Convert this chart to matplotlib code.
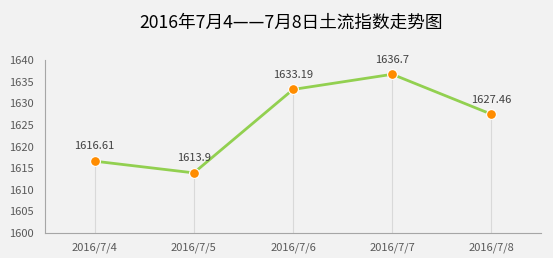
import matplotlib
matplotlib.use("Agg")
import matplotlib.pyplot as plt

dates = ["2016/7/4", "2016/7/5", "2016/7/6", "2016/7/7", "2016/7/8"]
values = [1616.61, 1613.9, 1633.19, 1636.7, 1627.46]
labels = ["1616.61", "1613.9", "1633.19", "1636.7", "1627.46"]
yticks = [1600, 1605, 1610, 1615, 1620, 1625, 1630, 1635, 1640]
title = "2016年7月4——7月8日土流指数走势图"

plt.rcParams['font.family'] = ['Noto Sans CJK SC', 'DejaVu Sans']

fig = plt.figure(figsize=(5.53, 2.58), dpi=100, facecolor="#f2f2f2")
ax = fig.add_axes([0.0814, 0.0969, 0.897, 0.6705])
ax.set_facecolor("#f2f2f2")

x = list(range(len(dates)))
for xi, v in zip(x, values):
    ax.plot([xi, xi], [1600, v], color="#d9d9d9", lw=0.8, zorder=1)
ax.plot(x, values, color="#92d050", lw=2, zorder=2)
ax.scatter(x, values, s=50, color="#ff8c00", edgecolor="white", linewidth=0.8, zorder=3)
for xi, v, t in zip(x, values, labels):
    ax.annotate(t, (xi, v), xytext=(0, 7), textcoords="offset points",
                ha="center", va="bottom", fontsize=8, color="#404040")

ax.set_xlim(-0.5, 4.5)
ax.set_ylim(1600, 1640)
ax.set_yticks(yticks)
ax.set_xticks(x)
ax.set_xticklabels(dates)
ax.tick_params(axis="both", length=0, labelsize=8, colors="#595959")
ax.tick_params(axis="x", pad=7)
ax.tick_params(axis="y", pad=8)
for s in ["top", "right"]:
    ax.spines[s].set_visible(False)
for s in ["left", "bottom"]:
    ax.spines[s].set_color("#a6a6a6")
    ax.spines[s].set_linewidth(0.8)

fig.text(0.526, 0.912, title, ha="center", va="center", fontsize=12.7, color="#000000")

fig.savefig("out.png", dpi=100, facecolor=fig.get_facecolor())
